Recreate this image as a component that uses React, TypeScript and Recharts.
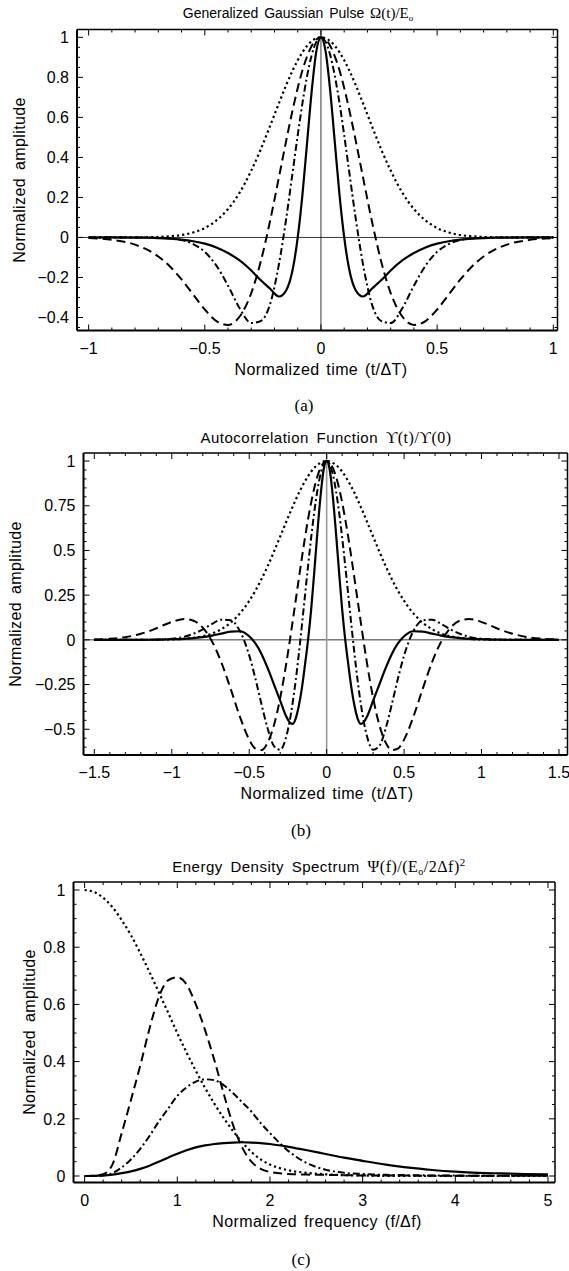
import React from "react";
import { LineChart, Line, XAxis, YAxis, ReferenceLine } from "recharts";

// (a) generalized gaussian pulse
const pulseTime = [-1, -0.9, -0.8, -0.75, -0.7, -0.65, -0.6, -0.55, -0.5, -0.45, -0.4, -0.35, -0.3, -0.26, -0.22, -0.18, -0.15, -0.12, -0.1, -0.08, -0.06, -0.04, -0.02, 0, 0.02, 0.04, 0.06, 0.08, 0.1, 0.12, 0.15, 0.18, 0.22, 0.26, 0.3, 0.35, 0.4, 0.45, 0.5, 0.55, 0.6, 0.65, 0.7, 0.75, 0.8, 0.9, 1];
const pulseSolid = [0, 0, -0.0008, -0.0015, -0.003, -0.006, -0.011, -0.019, -0.031, -0.05, -0.078, -0.115, -0.165, -0.213, -0.255, -0.295, -0.265, -0.15, 0, 0.21, 0.47, 0.73, 0.93, 1, 0.93, 0.73, 0.47, 0.21, 0, -0.15, -0.265, -0.295, -0.255, -0.213, -0.165, -0.115, -0.078, -0.05, -0.031, -0.019, -0.011, -0.006, -0.003, -0.0015, -0.0008, 0, 0];
const pulseDashed = [-0.003, -0.012, -0.036, -0.06, -0.095, -0.145, -0.21, -0.285, -0.36, -0.418, -0.437, -0.395, -0.278, -0.124, 0.077, 0.306, 0.481, 0.647, 0.747, 0.834, 0.904, 0.957, 0.989, 1, 0.989, 0.957, 0.904, 0.834, 0.747, 0.647, 0.481, 0.306, 0.077, -0.124, -0.278, -0.395, -0.437, -0.418, -0.36, -0.285, -0.21, -0.145, -0.095, -0.06, -0.036, -0.012, -0.003];
const pulseDashDot = [0, 0, 0, -0.0005, -0.002, -0.005, -0.013, -0.033, -0.072, -0.141, -0.241, -0.354, -0.428, -0.418, -0.337, -0.128, 0.091, 0.342, 0.511, 0.669, 0.805, 0.911, 0.977, 1, 0.977, 0.911, 0.805, 0.669, 0.511, 0.342, 0.091, -0.128, -0.337, -0.418, -0.428, -0.354, -0.241, -0.141, -0.072, -0.033, -0.013, -0.005, -0.002, -0.0005, 0, 0, 0];
const pulseDotted = [0, 0, 0, 0.001, 0.0025, 0.006, 0.012, 0.025, 0.047, 0.085, 0.142, 0.224, 0.334, 0.438, 0.554, 0.673, 0.76, 0.839, 0.885, 0.925, 0.957, 0.981, 0.995, 1, 0.995, 0.981, 0.957, 0.925, 0.885, 0.839, 0.76, 0.673, 0.554, 0.438, 0.334, 0.224, 0.142, 0.085, 0.047, 0.025, 0.012, 0.006, 0.0025, 0.001, 0, 0, 0];

// (b) autocorrelation
const lag = [-1.5, -1.4, -1.3, -1.2, -1.12, -1.05, -0.98, -0.92, -0.86, -0.8, -0.74, -0.68, -0.62, -0.56, -0.5, -0.46, -0.42, -0.38, -0.34, -0.3, -0.26, -0.24, -0.22, -0.2, -0.18, -0.16, -0.14, -0.12, -0.1, -0.08, -0.06, -0.04, -0.02, 0, 0.02, 0.04, 0.06, 0.08, 0.1, 0.12, 0.14, 0.16, 0.18, 0.2, 0.22, 0.24, 0.26, 0.3, 0.34, 0.38, 0.42, 0.46, 0.5, 0.56, 0.62, 0.68, 0.74, 0.8, 0.86, 0.92, 0.98, 1.05, 1.12, 1.2, 1.3, 1.4, 1.5];
const corrSolid = [0, 0, 0, 0, 0.001, 0.002, 0.004, 0.006, 0.01, 0.015, 0.024, 0.035, 0.046, 0.048, 0.02, -0.02, -0.08, -0.16, -0.25, -0.34, -0.43, -0.46, -0.47, -0.44, -0.37, -0.27, -0.14, 0, 0.17, 0.38, 0.6, 0.8, 0.95, 1, 0.95, 0.8, 0.6, 0.38, 0.17, 0, -0.14, -0.27, -0.37, -0.44, -0.47, -0.46, -0.43, -0.34, -0.25, -0.16, -0.08, -0.02, 0.02, 0.048, 0.046, 0.035, 0.024, 0.015, 0.01, 0.006, 0.004, 0.002, 0.001, 0, 0, 0, 0];
const corrDashed = [0.002, 0.006, 0.015, 0.034, 0.057, 0.083, 0.106, 0.116, 0.107, 0.068, -0.009, -0.126, -0.274, -0.43, -0.558, -0.608, -0.616, -0.573, -0.476, -0.325, -0.128, -0.017, 0.1, 0.22, 0.34, 0.458, 0.571, 0.675, 0.769, 0.849, 0.914, 0.961, 0.99, 1, 0.99, 0.961, 0.914, 0.849, 0.769, 0.675, 0.571, 0.458, 0.34, 0.22, 0.1, -0.017, -0.128, -0.325, -0.476, -0.573, -0.616, -0.608, -0.558, -0.43, -0.274, -0.126, -0.009, 0.068, 0.107, 0.116, 0.106, 0.083, 0.057, 0.034, 0.015, 0.006, 0.002];
const corrDashDot = [0, 0, 0, 0, 0.001, 0.003, 0.008, 0.017, 0.034, 0.058, 0.089, 0.113, 0.109, 0.049, -0.087, -0.217, -0.363, -0.499, -0.594, -0.615, -0.538, -0.46, -0.355, -0.228, -0.081, 0.08, 0.247, 0.414, 0.573, 0.715, 0.835, 0.925, 0.981, 1, 0.981, 0.925, 0.835, 0.715, 0.573, 0.414, 0.247, 0.08, -0.081, -0.228, -0.355, -0.46, -0.538, -0.615, -0.594, -0.499, -0.363, -0.217, -0.087, 0.049, 0.109, 0.113, 0.089, 0.058, 0.034, 0.017, 0.008, 0.003, 0.001, 0, 0, 0, 0];
const corrDotted = [0, 0, 0, 0.0002, 0.0005, 0.0012, 0.003, 0.006, 0.011, 0.02, 0.035, 0.06, 0.096, 0.148, 0.218, 0.275, 0.341, 0.414, 0.494, 0.578, 0.662, 0.704, 0.744, 0.783, 0.821, 0.855, 0.887, 0.916, 0.941, 0.962, 0.978, 0.99, 0.998, 1, 0.998, 0.99, 0.978, 0.962, 0.941, 0.916, 0.887, 0.855, 0.821, 0.783, 0.744, 0.704, 0.662, 0.578, 0.494, 0.414, 0.341, 0.275, 0.218, 0.148, 0.096, 0.06, 0.035, 0.02, 0.011, 0.006, 0.003, 0.0012, 0.0005, 0.0002, 0, 0, 0];

// (c) energy density spectrum
const freq = [0, 0.1, 0.2, 0.3, 0.4, 0.5, 0.6, 0.7, 0.8, 0.9, 1, 1.1, 1.2, 1.3, 1.4, 1.5, 1.6, 1.7, 1.8, 1.9, 2, 2.2, 2.4, 2.6, 2.8, 3, 3.25, 3.5, 3.75, 4, 4.25, 4.5, 4.75, 5];
const specSolid = [0, 0.0005, 0.002, 0.005, 0.01, 0.016, 0.025, 0.036, 0.05, 0.064, 0.078, 0.09, 0.1, 0.107, 0.112, 0.115, 0.117, 0.118, 0.117, 0.115, 0.112, 0.102, 0.09, 0.077, 0.064, 0.053, 0.04, 0.029, 0.021, 0.015, 0.011, 0.009, 0.007, 0.006];
const specDashed = [0, 0.001, 0.006, 0.04, 0.15, 0.266, 0.386, 0.515, 0.625, 0.684, 0.695, 0.67, 0.6, 0.51, 0.405, 0.289, 0.18, 0.1, 0.05, 0.025, 0.014, 0.007, 0.005, 0.004, 0.003, 0.002, 0.002, 0.0015, 0.001, 0.001, 0.001, 0.001, 0.001, 0.001];
const specDashDot = [0, 0, 0.002, 0.01, 0.03, 0.058, 0.095, 0.14, 0.19, 0.235, 0.28, 0.31, 0.33, 0.338, 0.335, 0.318, 0.29, 0.258, 0.225, 0.185, 0.15, 0.087, 0.045, 0.022, 0.011, 0.007, 0.004, 0.003, 0.002, 0.0015, 0.001, 0.001, 0.001, 0.001];
const specDotted = [1, 0.993, 0.973, 0.94, 0.895, 0.842, 0.78, 0.713, 0.643, 0.572, 0.5, 0.432, 0.368, 0.308, 0.253, 0.203, 0.158, 0.118, 0.084, 0.058, 0.04, 0.02, 0.011, 0.006, 0.003, 0.0015, 0.0005, 0, 0, 0, 0, 0, 0, 0];

// tick labels
const timeTicksA = [-1, -0.5, 0, 0.5, 1];
const ampTicksA = [-0.4, -0.2, 0, 0.2, 0.4, 0.6, 0.8, 1];
const timeTicksB = [-1.5, -1, -0.5, 0, 0.5, 1, 1.5];
const ampTicksB = [-0.5, -0.25, 0, 0.25, 0.5, 0.75, 1];
const freqTicksC = [0, 1, 2, 3, 4, 5];
const ampTicksC = [0, 0.2, 0.4, 0.6, 0.8, 1];

const SANS = "'Liberation Sans', Arial, sans-serif";
const SERIF = "'Liberation Serif', 'Times New Roman', serif";

const near = (list: number[], v: number) => list.find((m) => Math.abs(m - v) < 1e-6);
const fmt = (v: number) => (v < 0 ? "\u2212" + String(-v) : String(v));

// majors plus the small frame ticks in between
function allTicks(majors: number[], step: number, lo: number, hi: number) {
  const out = [...majors];
  for (let i = Math.ceil(lo / step - 1e-9); i <= Math.floor(hi / step + 1e-9); i++) {
    const v = +(i * step).toFixed(6);
    if (near(majors, v) === undefined) out.push(v);
  }
  return out.sort((a, b) => a - b);
}

type Frame = { left: number; right: number; top: number; bottom: number };

const xTick = (f: Frame, majors: number[]) => (props: any) => {
  const { x, payload } = props;
  const m = near(majors, payload.value);
  const len = m !== undefined ? 6 : 3;
  return (
    <g>
      <line x1={x} x2={x} y1={f.bottom} y2={f.bottom - len} stroke="#000" strokeWidth={1} />
      <line x1={x} x2={x} y1={f.top} y2={f.top + len} stroke="#000" strokeWidth={1} />
      {m !== undefined && (
        <text x={x} y={f.bottom + 23} textAnchor="middle" fontSize={16} fontFamily={SANS} fill="#000">
          {fmt(m)}
        </text>
      )}
    </g>
  );
};

const yTick = (f: Frame, majors: number[]) => (props: any) => {
  const { y, payload } = props;
  const m = near(majors, payload.value);
  const len = m !== undefined ? 6 : 3;
  return (
    <g>
      <line x1={f.left} x2={f.left + len} y1={y} y2={y} stroke="#000" strokeWidth={1} />
      <line x1={f.right} x2={f.right - len} y1={y} y2={y} stroke="#000" strokeWidth={1} />
      {m !== undefined && (
        <text x={f.left - 8} y={y + 5.7} textAnchor="end" fontSize={16} fontFamily={SANS} fill="#000">
          {fmt(m)}
        </text>
      )}
    </g>
  );
};

interface PanelProps {
  top: number;
  height: number;
  frame: Frame;
  xDomain: [number, number];
  yDomain: [number, number];
  xMajor: number[];
  yMajor: number[];
  xStep: number;
  yStep: number;
  data: any[];
  zeroX?: string;
  zeroY?: boolean;
}

const Panel = ({ top, height, frame, xDomain, yDomain, xMajor, yMajor, xStep, yStep, data, zeroX, zeroY }: PanelProps) => {
  const series = [
    { key: "dotted", dash: "2.2 3", w: 2.2 },
    { key: "dashed", dash: "9 5", w: 2 },
    { key: "dashDot", dash: "7 3 2 3", w: 2 },
    { key: "solid", dash: undefined, w: 2.2 },
  ];
  return (
    <div style={{ position: "absolute", left: 0, top }}>
      <LineChart
        width={569}
        height={height}
        data={data}
        margin={{ top: frame.top, right: 569 - frame.right, bottom: 0, left: frame.left - 60 }}
      >
        <XAxis
          dataKey="x"
          type="number"
          domain={xDomain}
          allowDataOverflow
          ticks={allTicks(xMajor, xStep, xDomain[0], xDomain[1])}
          interval={0}
          height={height - frame.bottom}
          tickLine={false}
          axisLine={{ stroke: "#000", strokeWidth: 2 }}
          tick={xTick(frame, xMajor)}
        />
        <YAxis
          type="number"
          domain={yDomain}
          allowDataOverflow
          ticks={allTicks(yMajor, yStep, yDomain[0], yDomain[1])}
          interval={0}
          width={60}
          tickLine={false}
          axisLine={{ stroke: "#000", strokeWidth: 2 }}
          tick={yTick(frame, yMajor)}
        />
        <ReferenceLine y={yDomain[1]} stroke="#000" strokeWidth={1.5} ifOverflow="visible" />
        <ReferenceLine x={xDomain[1]} stroke="#000" strokeWidth={1.5} ifOverflow="visible" />
        {zeroY && <ReferenceLine y={0} stroke="#000" strokeWidth={0.8} />}
        {zeroX && <ReferenceLine x={0} stroke={zeroX} strokeWidth={zeroX === "#000" ? 0.8 : 1.6} />}
        {series.map((s) => (
          <Line
            key={s.key}
            dataKey={s.key}
            type="monotone"
            stroke="#000"
            strokeWidth={s.w}
            strokeDasharray={s.dash}
            dot={false}
            activeDot={false}
            isAnimationActive={false}
          />
        ))}
      </LineChart>
    </div>
  );
};

const rows = (xs: number[], solid: number[], dashed: number[], dashDot: number[], dotted: number[]) =>
  xs.map((x, i) => ({ x, solid: solid[i], dashed: dashed[i], dashDot: dashDot[i], dotted: dotted[i] }));

const YLabel = ({ x, y }: { x: number; y: number }) => (
  <text
    transform={`translate(${x},${y}) rotate(-90)`}
    textAnchor="middle"
    dominantBaseline="central"
    fontSize={16}
    fontFamily={SANS}
    letterSpacing={0.4}
    wordSpacing={3}
  >
    Normalized amplitude
  </text>
);

const XLabel = ({ x, y, children }: { x: number; y: number; children: React.ReactNode }) => (
  <text x={x} y={y} textAnchor="middle" fontSize={16} fontFamily={SANS} letterSpacing={0.4} wordSpacing={2}>
    {children}
  </text>
);

export default function App() {
  const dataA = rows(pulseTime, pulseSolid, pulseDashed, pulseDashDot, pulseDotted);
  const dataB = rows(lag, corrSolid, corrDashed, corrDashDot, corrDotted);
  const dataC = rows(freq, specSolid, specDashed, specDashDot, specDotted);

  return (
    <div style={{ position: "absolute", left: 0, top: 0, width: 569, height: 1271, background: "#fff", overflow: "hidden" }}>
      <Panel
        top={0}
        height={360}
        frame={{ left: 77, right: 557.5, top: 29.5, bottom: 330.5 }}
        xDomain={[-1.05, 1.018]}
        yDomain={[-0.465, 1.039]}
        xMajor={timeTicksA}
        yMajor={ampTicksA}
        xStep={0.1}
        yStep={0.05}
        data={dataA}
        zeroX="#000"
        zeroY
      />
      <Panel
        top={440}
        height={340}
        frame={{ left: 83.5, right: 567.5, top: 13, bottom: 315 }}
        xDomain={[-1.57, 1.555]}
        yDomain={[-0.644, 1.045]}
        xMajor={timeTicksB}
        yMajor={ampTicksB}
        xStep={0.1}
        yStep={0.05}
        data={dataB}
        zeroX="#999"
        zeroY
      />
      <Panel
        top={860}
        height={350}
        frame={{ left: 73.5, right: 555, top: 22, bottom: 322.5 }}
        xDomain={[-0.12, 5.076]}
        yDomain={[-0.0227, 1.028]}
        xMajor={freqTicksC}
        yMajor={ampTicksC}
        xStep={0.2}
        yStep={0.05}
        data={dataC}
      />

      <svg width={569} height={1271} style={{ position: "absolute", left: 0, top: 0, pointerEvents: "none" }}>
        <text x={298} y={18} textAnchor="middle" fontSize={14} fontFamily={SANS} wordSpacing={2}>
          Generalized Gaussian Pulse{" "}
          <tspan fontFamily={SERIF} fontSize={15}>Ω(t)/E</tspan>
          <tspan fontFamily={SERIF} fontSize={9} dy={3}>o</tspan>
        </text>
        <XLabel x={321} y={375}>Normalized time (t/ΔT)</XLabel>
        <YLabel x={19} y={180} />
        <text x={304} y={411} textAnchor="middle" fontSize={17} fontFamily={SERIF}>(a)</text>

        <text x={326} y={443} textAnchor="middle" fontSize={15} fontFamily={SANS} letterSpacing={0.5} wordSpacing={3}>
          Autocorrelation Function{" "}
          <tspan fontFamily={SERIF} fontSize={16}>ϒ(t)/ϒ(0)</tspan>
        </text>
        <XLabel x={327} y={799}>Normalized time (t/ΔT)</XLabel>
        <YLabel x={15} y={604} />
        <text x={301} y={836} textAnchor="middle" fontSize={17} fontFamily={SERIF}>(b)</text>

        <text x={319} y={872} textAnchor="middle" fontSize={15} fontFamily={SANS} letterSpacing={0.5} wordSpacing={3}>
          Energy Density Spectrum{" "}
          <tspan fontFamily={SERIF} fontSize={16}>Ψ(f)/(E</tspan>
          <tspan fontFamily={SERIF} fontSize={10} dy={3}>o</tspan>
          <tspan fontFamily={SERIF} fontSize={16} dy={-3}>/2Δf)</tspan>
          <tspan fontFamily={SERIF} fontSize={11} dy={-6}>2</tspan>
        </text>
        <XLabel x={317} y={1227}>Normalized frequency (f/Δf)</XLabel>
        <YLabel x={29} y={1032} />
        <text x={301} y={1265} textAnchor="middle" fontSize={17} fontFamily={SERIF}>(c)</text>
      </svg>
    </div>
  );
}
